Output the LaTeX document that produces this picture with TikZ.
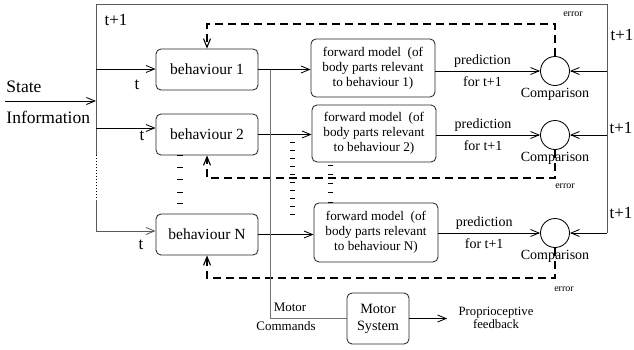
\documentclass[tikz,border=0pt]{standalone}
\usepackage{fontspec}
\setmainfont{Liberation Serif}
\usetikzlibrary{arrows.meta, calc}

\newcommand{\fsz}[1]{\fontsize{#1}{#1}\selectfont}

\begin{document}
\begin{tikzpicture}[x=1pt, y=-1pt, >={Straight Barb[length=8.5pt, width=7pt]}, line width=0.85pt,
  every node/.style={inner sep=0pt},
  behbox/.style={draw=black!85, rounded corners=5pt, minimum width=102pt, minimum height=41pt, font=\fsz{15.5}},
  fmbox/.style={draw=black!85, rounded corners=5pt, align=center, minimum width=124pt, minimum height=58pt, font=\fontsize{13.2}{15}\selectfont},
  cmp/.style={draw, circle, minimum size=29pt},
  errline/.style={dash pattern=on 8pt off 5pt, line width=1.1pt},
  frameline/.style={draw=black!65},
  lbl/.style={font=\fsz{14}},
  tlbl/.style={font=\fsz{17}},
  errlbl/.style={font=\fsz{10}}]
  \useasboundingbox (0,0) rectangle (634,349);

  % boxes
  \node[behbox] (b1) at (207,69.5) {behaviour 1};
  \node[behbox] (b2) at (207,134.5) {behaviour 2};
  \node[behbox] (bN) at (207,234.5) {behaviour N};
  \node[fmbox] (fm1) at (373,68) {forward model\ \ (of\\body parts relevant\\to behaviour 1)};
  \node[fmbox, minimum height=57pt] (fm2) at (374,133.5) {forward model\ \ (of\\body parts relevant\\to behaviour 2)};
  \node[fmbox, minimum height=59pt] (fmN) at (376,232.5) {forward model\ \ (of\\body parts relevant\\to behaviour N)};
  \node[cmp] (c1) at (555,71) {};
  \node[cmp] (c2) at (555,135) {};
  \node[cmp] (cN) at (555,233) {};
  \node[lbl, anchor=north] (cl1) at ($(c1.south)+(0,1.5)$) {Comparison};
  \node[lbl, anchor=north] (cl2) at ($(c2.south)+(0,1.5)$) {Comparison};
  \node[lbl, anchor=north] (clN) at ($(cN.south)+(0,2)$) {Comparison};
  \node[draw=black!85, rounded corners=5pt, align=center, minimum width=62pt, minimum height=51pt, font=\fontsize{14.2}{17}\selectfont] (ms) at (378,318.5) {Motor\\System};

  % outer frame
  \coordinate (ftl) at (96,4);
  \coordinate (ftr) at (607,4);
  \coordinate (fbr) at (607,233);
  \coordinate (fdot1) at (96,155);
  \coordinate (fdot2) at (96,200);
  \draw[frameline] (fdot1) -- (ftl) -- (ftr) -- (fbr);
  \draw[dotted, line width=1pt] (fdot1) -- (fdot2);
  \draw[frameline, ->] (fdot2) |- ($(bN.west)+(0,-3.5)$);

  % state input
  \coordinate (si) at (5,101);
  \draw[->] (si) -- (si -| ftl);
  \node[font=\fsz{17.5}, anchor=west] (st) at (6,87) {State};
  \node[font=\fsz{17.5}, anchor=west] (inf) at (6,117) {Information};

  % inputs at t
  \coordinate (in1) at (96,69);
  \coordinate (in2) at (96,128);
  \draw[->] (in1) -- (in1 -| b1.west);
  \draw[->] (in2) -- (in2 -| b2.west);
  \node[tlbl] (t0) at (116,20) {t+1};
  \node[tlbl] (t1) at (137,85) {t};
  \node[tlbl] (t2) at (142,136) {t};
  \node[tlbl] (tN) at (141,245) {t};

  % behaviour -> forward model
  \draw[->] (b1.east) -- (b1.east -| fm1.west);
  \draw[->] (b2.east) -- (b2.east -| fm2.west);
  \draw[->] (bN.east) -- (bN.east -| fmN.west);

  % predictions
  \draw[->] (c1.west -| fm1.east) -- (c1.west)
    node[pos=0.45, above=3pt, lbl] (pr1) {prediction} node[pos=0.45, below=5pt, lbl] (ft1) {for t+1};
  \draw[->] (c2.west -| fm2.east) -- (c2.west)
    node[pos=0.45, above=3pt, lbl] (pr2) {prediction} node[pos=0.45, below=5pt, lbl] (ft2) {for t+1};
  \draw[->] (cN.west -| fmN.east) -- (cN.west)
    node[pos=0.45, above=3pt, lbl] (prN) {prediction} node[pos=0.45, below=5pt, lbl] (ftN) {for t+1};

  % actual state at t+1
  \draw[->] (c1.east -| ftr) -- (c1.east);
  \draw[->] (c2.east -| ftr) -- (c2.east);
  \draw[->] (fbr) -- (cN.east);
  \node[tlbl] (tr1) at (622,35) {t+1};
  \node[tlbl] (tr2) at (621,128) {t+1};
  \node[tlbl] (trN) at (621,213) {t+1};

  % error feedback
  \draw[errline, ->] (c1.north) -- (c1.north |- 0,24) -| (b1.north);
  \draw[errline, ->] (c2.south) -- (c2.south |- 0,178) -| (b2.south);
  \draw[errline, ->] (cN.south) -- (cN.south |- 0,278) -| (bN.south);
  \node[errlbl] (e1) at (573,14) {error};
  \node[errlbl] (e2) at (565,186) {error};
  \node[errlbl] (eN) at (564,289) {error};

  % more behaviours
  \foreach \y in {155,167,179,192,203} \draw (177,\y) -- (183,\y);
  \foreach \y in {142,150,...,218} \draw (290,\y) -- (295,\y);
  \foreach \y in {165,174,183,192,202} \draw (328,\y) -- (333,\y);

  % motor output
  \draw[draw=black!55, line width=1pt] ($(b1.east)+(12,0.5)$) |- (ms.west);
  \node[font=\fsz{13}] (mot) at (290,307) {Motor};
  \node[font=\fsz{13}] (cmd) at (286,326) {Commands};
  \node[align=center, font=\fontsize{12.7}{13.5}\selectfont] (pf) at (496,318) {Proprioceptive\\feedback};
  \draw[->, shorten >=11pt] (ms.east) -- (ms.east -| pf.west);
\end{tikzpicture}
\end{document}
